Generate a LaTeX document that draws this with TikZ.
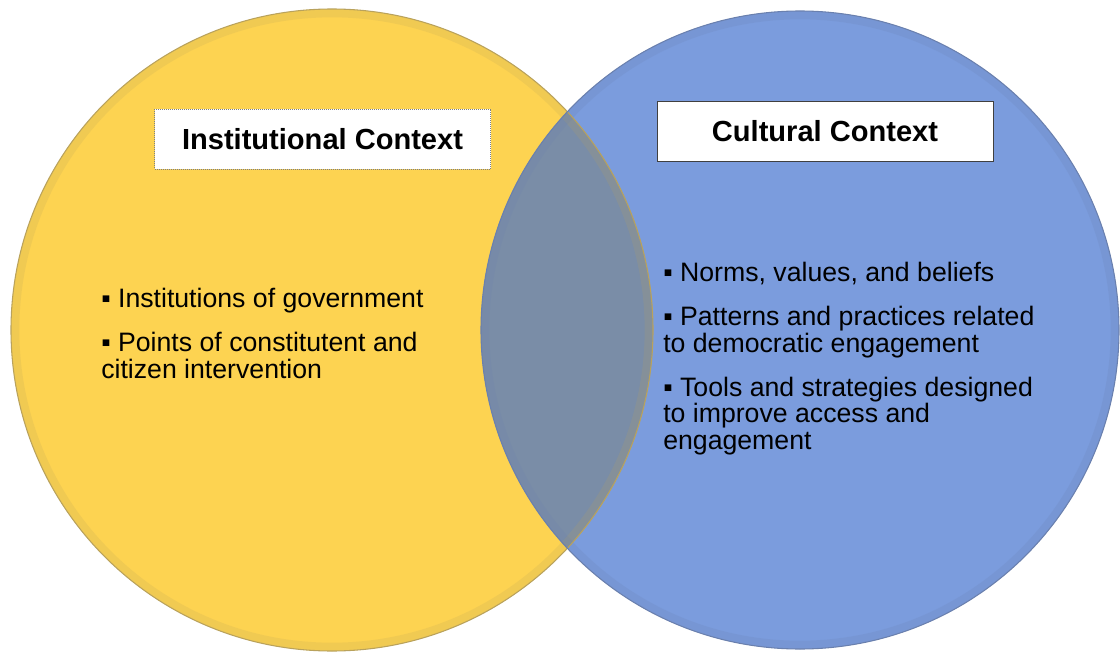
\documentclass[tikz,border=0pt]{standalone}
\usepackage{fontspec}
\setmainfont{Liberation Sans}
\usepackage{tikz}
\usetikzlibrary{positioning}
\definecolor{venyellow}{HTML}{FDD351}
\definecolor{venblue}{HTML}{7B9CDD}
\definecolor{venmix}{HTML}{7A8DA7}
\definecolor{yellowrim}{HTML}{B9A25C}
\definecolor{bluerim}{HTML}{6A80AE}
\tikzset{x=0.75pt,y=-0.75pt,
  ring/.style={circle,inner sep=0pt},
  title/.style={fill=white,inner sep=0pt,font=\fontsize{21.8}{26}\selectfont\bfseries,
    minimum width=252pt,minimum height=45pt},
  points/.style={align=left,inner sep=0pt,anchor=north west,font=\fontsize{20}{20}\selectfont}}

\begin{document}
\begin{tikzpicture}
    \useasboundingbox (0,0) rectangle (1120,656);
    \node[ring,fill=venyellow,minimum size=481.5pt] (yc) at (332,330) {};
    \node[ring,fill=venblue,minimum size=478.5pt] (bc) at (800,330) {};
    \begin{scope}
        \clip (yc.center) circle (240.75pt);
        \fill[venmix] (bc.center) circle (239.25pt);
    \end{scope}
    \draw[yellowrim,opacity=.18,line width=6pt] (yc.center) circle (237.5pt);
    \draw[bluerim,opacity=.18,line width=6pt] (bc.center) circle (236pt);
    \draw[yellowrim,line width=.8pt] (yc.center) circle (240.75pt);
    \draw[bluerim,line width=.8pt] (bc.center) circle (239.25pt);

    \node[title,draw=gray,densely dotted,line width=.5pt] (inst) at (322.5,139) {Institutional Context};
    \node[title,draw=black!75,line width=.75pt] (cult) at (825,131.5) {Cultural Context};

    \node[points] (instpts) at (101,288) {▪ Institutions of government\\[13pt]
        ▪ Points of constitutent and\\citizen intervention};
    \node[points] (cultpts) at (663,262) {▪ Norms, values, and beliefs\\[13pt]
        ▪ Patterns and practices related\\to democratic engagement\\[13pt]
        ▪ Tools and strategies designed\\to improve access and\\engagement};
\end{tikzpicture}
\end{document}
